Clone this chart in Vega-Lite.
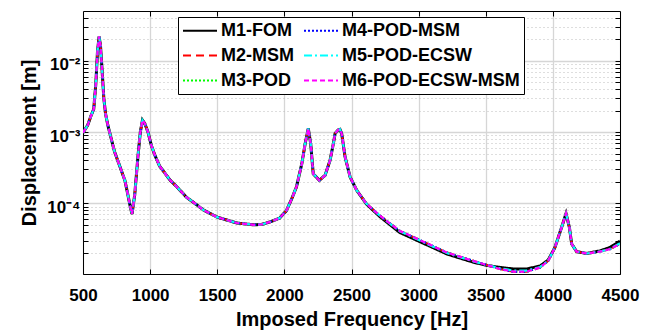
{
  "$schema": "https://vega.github.io/schema/vega-lite/v6.json",
  "autosize": "none",
  "padding": {"left": 83, "top": 11, "right": 32, "bottom": 60},
  "width": 537,
  "height": 263,
  "background": "white",
  "config": {
    "font": "Liberation Sans",
    "view": {"stroke": null},
    "axis": {
      "labelFont": "Liberation Sans",
      "labelFontWeight": "bold",
      "labelFontSize": 17,
      "labelColor": "#000",
      "titleFont": "Liberation Sans",
      "titleFontWeight": "bold",
      "titleFontSize": 20,
      "titleColor": "#000",
      "domainColor": "#000",
      "domainWidth": 1,
      "tickColor": "#000",
      "tickWidth": 1,
      "tickSize": -5
    }
  },
  "data": {
    "values": [
      {"f": 500, "M1-FOM": 9.8e-4, "M2-MSM": 9.8e-4, "M3-POD": 9.8e-4, "M4-POD-MSM": 9.8e-4, "M5-POD-ECSW": 9.8e-4, "M6-POD-ECSW-MSM": 9.8e-4},
      {"f": 535, "M1-FOM": 1.25e-3, "M2-MSM": 1.25e-3, "M3-POD": 1.25e-3, "M4-POD-MSM": 1.25e-3, "M5-POD-ECSW": 1.25e-3, "M6-POD-ECSW-MSM": 1.25e-3},
      {"f": 560, "M1-FOM": 1.7e-3, "M2-MSM": 1.7e-3, "M3-POD": 1.7e-3, "M4-POD-MSM": 1.7e-3, "M5-POD-ECSW": 1.7e-3, "M6-POD-ECSW-MSM": 1.7e-3},
      {"f": 580, "M1-FOM": 2.1e-3, "M2-MSM": 2.1e-3, "M3-POD": 2.1e-3, "M4-POD-MSM": 2.1e-3, "M5-POD-ECSW": 2.1e-3, "M6-POD-ECSW-MSM": 2.1e-3},
      {"f": 595, "M1-FOM": 4.6e-3, "M2-MSM": 4.6e-3, "M3-POD": 4.6e-3, "M4-POD-MSM": 4.6e-3, "M5-POD-ECSW": 4.6e-3, "M6-POD-ECSW-MSM": 4.6e-3},
      {"f": 608, "M1-FOM": 1.35e-2, "M2-MSM": 1.35e-2, "M3-POD": 1.35e-2, "M4-POD-MSM": 1.35e-2, "M5-POD-ECSW": 1.35e-2, "M6-POD-ECSW-MSM": 1.35e-2},
      {"f": 620, "M1-FOM": 2.2e-2, "M2-MSM": 2.2e-2, "M3-POD": 2.2e-2, "M4-POD-MSM": 2.2e-2, "M5-POD-ECSW": 2.2e-2, "M6-POD-ECSW-MSM": 2.2e-2},
      {"f": 630, "M1-FOM": 1.65e-2, "M2-MSM": 1.65e-2, "M3-POD": 1.65e-2, "M4-POD-MSM": 1.65e-2, "M5-POD-ECSW": 1.65e-2, "M6-POD-ECSW-MSM": 1.65e-2},
      {"f": 643, "M1-FOM": 7.0e-3, "M2-MSM": 7.0e-3, "M3-POD": 7.0e-3, "M4-POD-MSM": 7.0e-3, "M5-POD-ECSW": 7.0e-3, "M6-POD-ECSW-MSM": 7.0e-3},
      {"f": 655, "M1-FOM": 3.0e-3, "M2-MSM": 3.0e-3, "M3-POD": 3.0e-3, "M4-POD-MSM": 3.0e-3, "M5-POD-ECSW": 3.0e-3, "M6-POD-ECSW-MSM": 3.0e-3},
      {"f": 668, "M1-FOM": 1.8e-3, "M2-MSM": 1.8e-3, "M3-POD": 1.8e-3, "M4-POD-MSM": 1.8e-3, "M5-POD-ECSW": 1.8e-3, "M6-POD-ECSW-MSM": 1.8e-3},
      {"f": 685, "M1-FOM": 1.25e-3, "M2-MSM": 1.25e-3, "M3-POD": 1.25e-3, "M4-POD-MSM": 1.25e-3, "M5-POD-ECSW": 1.25e-3, "M6-POD-ECSW-MSM": 1.25e-3},
      {"f": 710, "M1-FOM": 8.1e-4, "M2-MSM": 8.1e-4, "M3-POD": 8.1e-4, "M4-POD-MSM": 8.1e-4, "M5-POD-ECSW": 8.1e-4, "M6-POD-ECSW-MSM": 8.1e-4},
      {"f": 735, "M1-FOM": 5.3e-4, "M2-MSM": 5.3e-4, "M3-POD": 5.3e-4, "M4-POD-MSM": 5.3e-4, "M5-POD-ECSW": 5.3e-4, "M6-POD-ECSW-MSM": 5.3e-4},
      {"f": 772, "M1-FOM": 3.4e-4, "M2-MSM": 3.4e-4, "M3-POD": 3.4e-4, "M4-POD-MSM": 3.4e-4, "M5-POD-ECSW": 3.4e-4, "M6-POD-ECSW-MSM": 3.4e-4},
      {"f": 812, "M1-FOM": 2.1e-4, "M2-MSM": 2.1e-4, "M3-POD": 2.1e-4, "M4-POD-MSM": 2.1e-4, "M5-POD-ECSW": 2.1e-4, "M6-POD-ECSW-MSM": 2.1e-4},
      {"f": 835, "M1-FOM": 1.3e-4, "M2-MSM": 1.3e-4, "M3-POD": 1.3e-4, "M4-POD-MSM": 1.3e-4, "M5-POD-ECSW": 1.3e-4, "M6-POD-ECSW-MSM": 1.3e-4},
      {"f": 853, "M1-FOM": 8.8e-5, "M2-MSM": 8.8e-5, "M3-POD": 8.8e-5, "M4-POD-MSM": 8.8e-5, "M5-POD-ECSW": 8.8e-5, "M6-POD-ECSW-MSM": 8.8e-5},
      {"f": 865, "M1-FOM": 7.1e-5, "M2-MSM": 7.1e-5, "M3-POD": 7.1e-5, "M4-POD-MSM": 7.1e-5, "M5-POD-ECSW": 7.1e-5, "M6-POD-ECSW-MSM": 7.1e-5},
      {"f": 885, "M1-FOM": 1.3e-4, "M2-MSM": 1.3e-4, "M3-POD": 1.3e-4, "M4-POD-MSM": 1.3e-4, "M5-POD-ECSW": 1.3e-4, "M6-POD-ECSW-MSM": 1.3e-4},
      {"f": 910, "M1-FOM": 4.7e-4, "M2-MSM": 4.7e-4, "M3-POD": 4.7e-4, "M4-POD-MSM": 4.7e-4, "M5-POD-ECSW": 4.7e-4, "M6-POD-ECSW-MSM": 4.7e-4},
      {"f": 927, "M1-FOM": 1.0e-3, "M2-MSM": 1.0e-3, "M3-POD": 1.0e-3, "M4-POD-MSM": 1.0e-3, "M5-POD-ECSW": 1.0e-3, "M6-POD-ECSW-MSM": 1.0e-3},
      {"f": 943, "M1-FOM": 1.47e-3, "M2-MSM": 1.47e-3, "M3-POD": 1.47e-3, "M4-POD-MSM": 1.47e-3, "M5-POD-ECSW": 1.47e-3, "M6-POD-ECSW-MSM": 1.47e-3},
      {"f": 960, "M1-FOM": 1.32e-3, "M2-MSM": 1.32e-3, "M3-POD": 1.32e-3, "M4-POD-MSM": 1.32e-3, "M5-POD-ECSW": 1.32e-3, "M6-POD-ECSW-MSM": 1.32e-3},
      {"f": 984, "M1-FOM": 1.0e-3, "M2-MSM": 1.0e-3, "M3-POD": 1.0e-3, "M4-POD-MSM": 1.0e-3, "M5-POD-ECSW": 1.0e-3, "M6-POD-ECSW-MSM": 1.0e-3},
      {"f": 1009, "M1-FOM": 6.5e-4, "M2-MSM": 6.5e-4, "M3-POD": 6.5e-4, "M4-POD-MSM": 6.5e-4, "M5-POD-ECSW": 6.5e-4, "M6-POD-ECSW-MSM": 6.5e-4},
      {"f": 1034, "M1-FOM": 4.8e-4, "M2-MSM": 4.8e-4, "M3-POD": 4.8e-4, "M4-POD-MSM": 4.8e-4, "M5-POD-ECSW": 4.8e-4, "M6-POD-ECSW-MSM": 4.8e-4},
      {"f": 1070, "M1-FOM": 3.35e-4, "M2-MSM": 3.35e-4, "M3-POD": 3.35e-4, "M4-POD-MSM": 3.35e-4, "M5-POD-ECSW": 3.35e-4, "M6-POD-ECSW-MSM": 3.35e-4},
      {"f": 1120, "M1-FOM": 2.5e-4, "M2-MSM": 2.5e-4, "M3-POD": 2.5e-4, "M4-POD-MSM": 2.5e-4, "M5-POD-ECSW": 2.5e-4, "M6-POD-ECSW-MSM": 2.5e-4},
      {"f": 1150, "M1-FOM": 2.1e-4, "M2-MSM": 2.1e-4, "M3-POD": 2.1e-4, "M4-POD-MSM": 2.1e-4, "M5-POD-ECSW": 2.1e-4, "M6-POD-ECSW-MSM": 2.1e-4},
      {"f": 1200, "M1-FOM": 1.7e-4, "M2-MSM": 1.7e-4, "M3-POD": 1.7e-4, "M4-POD-MSM": 1.7e-4, "M5-POD-ECSW": 1.7e-4, "M6-POD-ECSW-MSM": 1.7e-4},
      {"f": 1270, "M1-FOM": 1.22e-4, "M2-MSM": 1.22e-4, "M3-POD": 1.22e-4, "M4-POD-MSM": 1.22e-4, "M5-POD-ECSW": 1.22e-4, "M6-POD-ECSW-MSM": 1.22e-4},
      {"f": 1345, "M1-FOM": 9.6e-5, "M2-MSM": 9.6e-5, "M3-POD": 9.6e-5, "M4-POD-MSM": 9.6e-5, "M5-POD-ECSW": 9.6e-5, "M6-POD-ECSW-MSM": 9.6e-5},
      {"f": 1400, "M1-FOM": 8.0e-5, "M2-MSM": 8.0e-5, "M3-POD": 8.0e-5, "M4-POD-MSM": 8.0e-5, "M5-POD-ECSW": 8.0e-5, "M6-POD-ECSW-MSM": 8.0e-5},
      {"f": 1500, "M1-FOM": 6.4e-5, "M2-MSM": 6.4e-5, "M3-POD": 6.4e-5, "M4-POD-MSM": 6.4e-5, "M5-POD-ECSW": 6.4e-5, "M6-POD-ECSW-MSM": 6.4e-5},
      {"f": 1645, "M1-FOM": 5.3e-5, "M2-MSM": 5.3e-5, "M3-POD": 5.3e-5, "M4-POD-MSM": 5.3e-5, "M5-POD-ECSW": 5.3e-5, "M6-POD-ECSW-MSM": 5.3e-5},
      {"f": 1770, "M1-FOM": 5.0e-5, "M2-MSM": 5.0e-5, "M3-POD": 5.0e-5, "M4-POD-MSM": 5.0e-5, "M5-POD-ECSW": 5.0e-5, "M6-POD-ECSW-MSM": 5.0e-5},
      {"f": 1830, "M1-FOM": 5.05e-5, "M2-MSM": 5.05e-5, "M3-POD": 5.05e-5, "M4-POD-MSM": 5.05e-5, "M5-POD-ECSW": 5.05e-5, "M6-POD-ECSW-MSM": 5.05e-5},
      {"f": 1895, "M1-FOM": 5.5e-5, "M2-MSM": 5.5e-5, "M3-POD": 5.5e-5, "M4-POD-MSM": 5.5e-5, "M5-POD-ECSW": 5.5e-5, "M6-POD-ECSW-MSM": 5.5e-5},
      {"f": 1965, "M1-FOM": 6.2e-5, "M2-MSM": 6.2e-5, "M3-POD": 6.2e-5, "M4-POD-MSM": 6.2e-5, "M5-POD-ECSW": 6.2e-5, "M6-POD-ECSW-MSM": 6.2e-5},
      {"f": 2015, "M1-FOM": 7.9e-5, "M2-MSM": 7.9e-5, "M3-POD": 7.9e-5, "M4-POD-MSM": 7.9e-5, "M5-POD-ECSW": 7.9e-5, "M6-POD-ECSW-MSM": 7.9e-5},
      {"f": 2055, "M1-FOM": 1.16e-4, "M2-MSM": 1.16e-4, "M3-POD": 1.16e-4, "M4-POD-MSM": 1.16e-4, "M5-POD-ECSW": 1.16e-4, "M6-POD-ECSW-MSM": 1.16e-4},
      {"f": 2090, "M1-FOM": 1.7e-4, "M2-MSM": 1.7e-4, "M3-POD": 1.7e-4, "M4-POD-MSM": 1.7e-4, "M5-POD-ECSW": 1.7e-4, "M6-POD-ECSW-MSM": 1.7e-4},
      {"f": 2130, "M1-FOM": 3.6e-4, "M2-MSM": 3.6e-4, "M3-POD": 3.6e-4, "M4-POD-MSM": 3.6e-4, "M5-POD-ECSW": 3.6e-4, "M6-POD-ECSW-MSM": 3.6e-4},
      {"f": 2155, "M1-FOM": 6.9e-4, "M2-MSM": 6.9e-4, "M3-POD": 6.9e-4, "M4-POD-MSM": 6.9e-4, "M5-POD-ECSW": 6.9e-4, "M6-POD-ECSW-MSM": 6.9e-4},
      {"f": 2178, "M1-FOM": 1.12e-3, "M2-MSM": 1.12e-3, "M3-POD": 1.12e-3, "M4-POD-MSM": 1.12e-3, "M5-POD-ECSW": 1.12e-3, "M6-POD-ECSW-MSM": 1.12e-3},
      {"f": 2196, "M1-FOM": 6.9e-4, "M2-MSM": 6.9e-4, "M3-POD": 6.9e-4, "M4-POD-MSM": 6.9e-4, "M5-POD-ECSW": 6.9e-4, "M6-POD-ECSW-MSM": 6.9e-4},
      {"f": 2215, "M1-FOM": 2.6e-4, "M2-MSM": 2.6e-4, "M3-POD": 2.6e-4, "M4-POD-MSM": 2.6e-4, "M5-POD-ECSW": 2.6e-4, "M6-POD-ECSW-MSM": 2.6e-4},
      {"f": 2260, "M1-FOM": 2.1e-4, "M2-MSM": 2.1e-4, "M3-POD": 2.1e-4, "M4-POD-MSM": 2.1e-4, "M5-POD-ECSW": 2.1e-4, "M6-POD-ECSW-MSM": 2.1e-4},
      {"f": 2303, "M1-FOM": 2.47e-4, "M2-MSM": 2.47e-4, "M3-POD": 2.47e-4, "M4-POD-MSM": 2.47e-4, "M5-POD-ECSW": 2.47e-4, "M6-POD-ECSW-MSM": 2.47e-4},
      {"f": 2340, "M1-FOM": 4.0e-4, "M2-MSM": 4.0e-4, "M3-POD": 4.0e-4, "M4-POD-MSM": 4.0e-4, "M5-POD-ECSW": 4.0e-4, "M6-POD-ECSW-MSM": 4.0e-4},
      {"f": 2365, "M1-FOM": 6.9e-4, "M2-MSM": 6.9e-4, "M3-POD": 6.9e-4, "M4-POD-MSM": 6.9e-4, "M5-POD-ECSW": 6.9e-4, "M6-POD-ECSW-MSM": 6.9e-4},
      {"f": 2378, "M1-FOM": 9.6e-4, "M2-MSM": 9.6e-4, "M3-POD": 9.6e-4, "M4-POD-MSM": 9.6e-4, "M5-POD-ECSW": 9.6e-4, "M6-POD-ECSW-MSM": 9.6e-4},
      {"f": 2400, "M1-FOM": 1.07e-3, "M2-MSM": 1.07e-3, "M3-POD": 1.07e-3, "M4-POD-MSM": 1.07e-3, "M5-POD-ECSW": 1.07e-3, "M6-POD-ECSW-MSM": 1.07e-3},
      {"f": 2414, "M1-FOM": 1.09e-3, "M2-MSM": 1.09e-3, "M3-POD": 1.09e-3, "M4-POD-MSM": 1.09e-3, "M5-POD-ECSW": 1.09e-3, "M6-POD-ECSW-MSM": 1.09e-3},
      {"f": 2427, "M1-FOM": 9.5e-4, "M2-MSM": 9.5e-4, "M3-POD": 9.5e-4, "M4-POD-MSM": 9.5e-4, "M5-POD-ECSW": 9.5e-4, "M6-POD-ECSW-MSM": 9.5e-4},
      {"f": 2452, "M1-FOM": 4.5e-4, "M2-MSM": 4.5e-4, "M3-POD": 4.5e-4, "M4-POD-MSM": 4.5e-4, "M5-POD-ECSW": 4.5e-4, "M6-POD-ECSW-MSM": 4.5e-4},
      {"f": 2490, "M1-FOM": 2.33e-4, "M2-MSM": 2.33e-4, "M3-POD": 2.33e-4, "M4-POD-MSM": 2.33e-4, "M5-POD-ECSW": 2.33e-4, "M6-POD-ECSW-MSM": 2.33e-4},
      {"f": 2540, "M1-FOM": 1.51e-4, "M2-MSM": 1.51e-4, "M3-POD": 1.51e-4, "M4-POD-MSM": 1.51e-4, "M5-POD-ECSW": 1.51e-4, "M6-POD-ECSW-MSM": 1.51e-4},
      {"f": 2613, "M1-FOM": 9.7e-5, "M2-MSM": 9.8e-5, "M3-POD": 9.8e-5, "M4-POD-MSM": 9.8e-5, "M5-POD-ECSW": 9.8e-5, "M6-POD-ECSW-MSM": 9.8e-5},
      {"f": 2712, "M1-FOM": 6.5e-5, "M2-MSM": 6.7e-5, "M3-POD": 6.7e-5, "M4-POD-MSM": 6.7e-5, "M5-POD-ECSW": 6.7e-5, "M6-POD-ECSW-MSM": 6.7e-5},
      {"f": 2860, "M1-FOM": 3.9e-5, "M2-MSM": 4.1e-5, "M3-POD": 4.1e-5, "M4-POD-MSM": 4.1e-5, "M5-POD-ECSW": 4.05e-5, "M6-POD-ECSW-MSM": 4.1e-5},
      {"f": 3010, "M1-FOM": 2.9e-5, "M2-MSM": 3.05e-5, "M3-POD": 3.05e-5, "M4-POD-MSM": 3.05e-5, "M5-POD-ECSW": 3.0e-5, "M6-POD-ECSW-MSM": 3.05e-5},
      {"f": 3210, "M1-FOM": 1.95e-5, "M2-MSM": 2.04e-5, "M3-POD": 2.04e-5, "M4-POD-MSM": 2.04e-5, "M5-POD-ECSW": 2.01e-5, "M6-POD-ECSW-MSM": 2.04e-5},
      {"f": 3405, "M1-FOM": 1.5e-5, "M2-MSM": 1.56e-5, "M3-POD": 1.56e-5, "M4-POD-MSM": 1.56e-5, "M5-POD-ECSW": 1.54e-5, "M6-POD-ECSW-MSM": 1.56e-5},
      {"f": 3505, "M1-FOM": 1.35e-5, "M2-MSM": 1.37e-5, "M3-POD": 1.37e-5, "M4-POD-MSM": 1.37e-5, "M5-POD-ECSW": 1.37e-5, "M6-POD-ECSW-MSM": 1.37e-5},
      {"f": 3605, "M1-FOM": 1.26e-5, "M2-MSM": 1.2e-5, "M3-POD": 1.2e-5, "M4-POD-MSM": 1.2e-5, "M5-POD-ECSW": 1.23e-5, "M6-POD-ECSW-MSM": 1.2e-5},
      {"f": 3705, "M1-FOM": 1.2e-5, "M2-MSM": 1.1e-5, "M3-POD": 1.1e-5, "M4-POD-MSM": 1.1e-5, "M5-POD-ECSW": 1.14e-5, "M6-POD-ECSW-MSM": 1.1e-5},
      {"f": 3805, "M1-FOM": 1.2e-5, "M2-MSM": 1.1e-5, "M3-POD": 1.1e-5, "M4-POD-MSM": 1.1e-5, "M5-POD-ECSW": 1.14e-5, "M6-POD-ECSW-MSM": 1.1e-5},
      {"f": 3905, "M1-FOM": 1.32e-5, "M2-MSM": 1.26e-5, "M3-POD": 1.26e-5, "M4-POD-MSM": 1.26e-5, "M5-POD-ECSW": 1.28e-5, "M6-POD-ECSW-MSM": 1.26e-5},
      {"f": 3965, "M1-FOM": 1.6e-5, "M2-MSM": 1.56e-5, "M3-POD": 1.56e-5, "M4-POD-MSM": 1.56e-5, "M5-POD-ECSW": 1.57e-5, "M6-POD-ECSW-MSM": 1.56e-5},
      {"f": 4015, "M1-FOM": 2.4e-5, "M2-MSM": 2.4e-5, "M3-POD": 2.4e-5, "M4-POD-MSM": 2.4e-5, "M5-POD-ECSW": 2.4e-5, "M6-POD-ECSW-MSM": 2.4e-5},
      {"f": 4065, "M1-FOM": 4.6e-5, "M2-MSM": 4.6e-5, "M3-POD": 4.6e-5, "M4-POD-MSM": 4.6e-5, "M5-POD-ECSW": 4.6e-5, "M6-POD-ECSW-MSM": 4.6e-5},
      {"f": 4098, "M1-FOM": 7.2e-5, "M2-MSM": 7.2e-5, "M3-POD": 7.2e-5, "M4-POD-MSM": 7.2e-5, "M5-POD-ECSW": 7.2e-5, "M6-POD-ECSW-MSM": 7.2e-5},
      {"f": 4123, "M1-FOM": 4.6e-5, "M2-MSM": 4.6e-5, "M3-POD": 4.6e-5, "M4-POD-MSM": 4.6e-5, "M5-POD-ECSW": 4.6e-5, "M6-POD-ECSW-MSM": 4.6e-5},
      {"f": 4140, "M1-FOM": 2.7e-5, "M2-MSM": 2.7e-5, "M3-POD": 2.7e-5, "M4-POD-MSM": 2.7e-5, "M5-POD-ECSW": 2.7e-5, "M6-POD-ECSW-MSM": 2.7e-5},
      {"f": 4177, "M1-FOM": 2.1e-5, "M2-MSM": 2.1e-5, "M3-POD": 2.1e-5, "M4-POD-MSM": 2.1e-5, "M5-POD-ECSW": 2.1e-5, "M6-POD-ECSW-MSM": 2.1e-5},
      {"f": 4252, "M1-FOM": 1.98e-5, "M2-MSM": 1.98e-5, "M3-POD": 1.98e-5, "M4-POD-MSM": 1.98e-5, "M5-POD-ECSW": 1.98e-5, "M6-POD-ECSW-MSM": 1.98e-5},
      {"f": 4350, "M1-FOM": 2.15e-5, "M2-MSM": 2.1e-5, "M3-POD": 2.1e-5, "M4-POD-MSM": 2.1e-5, "M5-POD-ECSW": 2.1e-5, "M6-POD-ECSW-MSM": 2.1e-5},
      {"f": 4425, "M1-FOM": 2.4e-5, "M2-MSM": 2.28e-5, "M3-POD": 2.28e-5, "M4-POD-MSM": 2.28e-5, "M5-POD-ECSW": 2.3e-5, "M6-POD-ECSW-MSM": 2.28e-5},
      {"f": 4500, "M1-FOM": 2.95e-5, "M2-MSM": 2.7e-5, "M3-POD": 2.7e-5, "M4-POD-MSM": 2.7e-5, "M5-POD-ECSW": 2.75e-5, "M6-POD-ECSW-MSM": 2.7e-5}
    ]
  },
  "transform": [
    {"fold": ["M1-FOM", "M2-MSM", "M3-POD", "M4-POD-MSM", "M5-POD-ECSW", "M6-POD-ECSW-MSM"], "as": ["model", "disp"]}
  ],
  "encoding": {
    "color": {
      "field": "model",
      "type": "nominal",
      "scale": {
        "domain": ["M1-FOM", "M2-MSM", "M3-POD", "M4-POD-MSM", "M5-POD-ECSW", "M6-POD-ECSW-MSM"],
        "range": ["#000000", "#ff0000", "#00ff00", "#0000ff", "#00ffff", "#ff00ff"]
      },
      "legend": {
        "title": null,
        "orient": "none",
        "legendX": 95,
        "legendY": 6,
        "columns": 2,
        "columnPadding": 6,
        "rowPadding": 6,
        "padding": 4,
        "strokeColor": "#000",
        "fillColor": "#fff",
        "symbolType": "M-1,0H3",
        "symbolSize": 289,
        "symbolStrokeWidth": 2,
        "labelFont": "Liberation Sans",
        "labelFontWeight": "bold",
        "labelFontSize": 18,
        "labelColor": "#000",
        "labelOffset": 20,
        "labelLimit": 300
      }
    },
    "strokeDash": {
      "field": "model",
      "type": "nominal",
      "scale": {
        "domain": ["M1-FOM", "M2-MSM", "M3-POD", "M4-POD-MSM", "M5-POD-ECSW", "M6-POD-ECSW-MSM"],
        "range": [[1, 0], [8, 5], [2, 2], [2, 2], [8, 3, 2, 3], [5, 3]]
      }
    }
  },
  "layer": [
    {
      "transform": [{"filter": "datum.model == 'M1-FOM'"}],
      "mark": {"type": "line", "strokeWidth": 3, "clip": true},
      "encoding": {
        "x": {
          "field": "f",
          "type": "quantitative",
          "scale": {"domain": [500, 4500], "nice": false, "zero": false},
          "axis": {
            "orient": "bottom",
            "title": "Imposed Frequency [Hz]",
            "values": [500, 1000, 1500, 2000, 2500, 3000, 3500, 4000, 4500],
            "format": "d",
            "labelPadding": 18,
            "titlePadding": 6,
            "grid": true,
            "gridColor": "#d6d6d6",
            "gridWidth": 1.3,
            "labelFlush": false
          }
        },
        "y": {
          "field": "disp",
          "type": "quantitative",
          "scale": {"type": "log", "domain": [1.02e-5, 0.05], "nice": false},
          "axis": {
            "orient": "left",
            "title": "Displacement [m]",
            "values": [2e-5, 3e-5, 4e-5, 5e-5, 6e-5, 7e-5, 8e-5, 9e-5, 0.0001, 2e-4, 3e-4, 4e-4, 5e-4, 6e-4, 7e-4, 8e-4, 9e-4, 0.001, 0.002, 0.003, 0.004, 0.005, 0.006, 0.007, 0.008, 0.009, 0.01, 0.02, 0.03, 0.04],
            "labelExpr": "datum.value == 0.01 ? '10⁻²' : datum.value == 0.001 ? '10⁻³' : datum.value == 0.0001 ? '10⁻⁴' : ''",
            "labelPadding": 8,
            "labelOffset": 4,
            "titlePadding": 7,
            "labelFlush": false,
            "labelOverlap": false,
            "grid": true,
            "gridColor": {"condition": {"test": "datum.value == 0.01 || datum.value == 0.001 || datum.value == 0.0001", "value": "#d6d6d6"}, "value": "#bdbdbd"},
            "gridDash": {"condition": {"test": "datum.value == 0.01 || datum.value == 0.001 || datum.value == 0.0001", "value": []}, "value": [1, 3]},
            "gridWidth": {"condition": {"test": "datum.value == 0.01 || datum.value == 0.001 || datum.value == 0.0001", "value": 1.3}, "value": 1}
          }
        }
      }
    },
    {
      "transform": [{"filter": "datum.model != 'M1-FOM'"}],
      "mark": {"type": "line", "strokeWidth": 2.2, "clip": true},
      "encoding": {
        "x": {
          "field": "f",
          "type": "quantitative",
          "scale": {"domain": [500, 4500], "nice": false, "zero": false},
          "axis": {
            "orient": "top",
            "title": null,
            "values": [1000, 1500, 2000, 2500, 3000, 3500, 4000],
            "labels": false,
            "grid": false
          }
        },
        "y": {
          "field": "disp",
          "type": "quantitative",
          "scale": {"type": "log", "domain": [1.02e-5, 0.05], "nice": false},
          "axis": {
            "orient": "right",
            "title": null,
            "values": [2e-5, 3e-5, 4e-5, 5e-5, 6e-5, 7e-5, 8e-5, 9e-5, 0.0001, 2e-4, 3e-4, 4e-4, 5e-4, 6e-4, 7e-4, 8e-4, 9e-4, 0.001, 0.002, 0.003, 0.004, 0.005, 0.006, 0.007, 0.008, 0.009, 0.01, 0.02, 0.03, 0.04],
            "labels": false,
            "grid": false
          }
        }
      }
    }
  ],
  "resolve": {"axis": {"x": "independent", "y": "independent"}}
}
